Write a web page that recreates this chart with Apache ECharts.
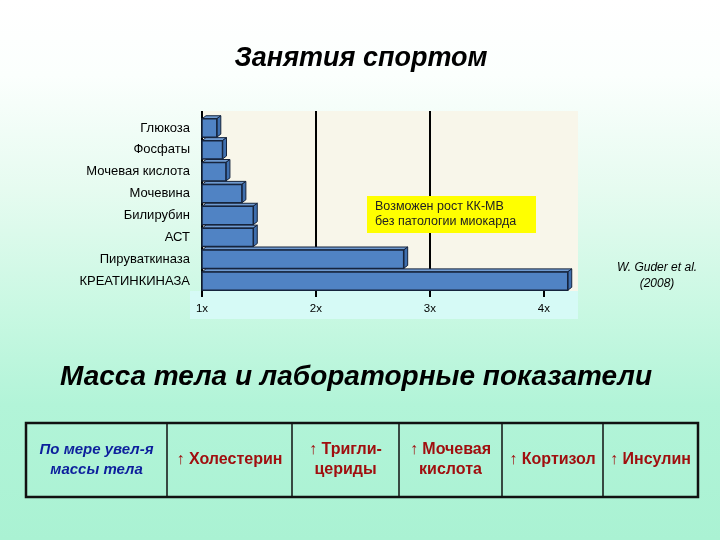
<!DOCTYPE html>
<html><head><meta charset="utf-8">
<script src="https://cdn.jsdelivr.net/npm/echarts@6/dist/echarts.min.js"></script>
<style>
html,body{margin:0;padding:0;}
#c{width:720px;height:540px;background:linear-gradient(to bottom,#ffffff 0%,#fbfffd 14%,#e6fbf0 35%,#c8f8e2 58%,#b2f4d8 75%,#aaf2d3 100%);}
</style></head>
<body><div id="c"></div>
<script>
const categories = ['Глюкоза','Фосфаты','Мочевая кислота','Мочевина','Билирубин','АСТ','Пируваткиназа','КРЕАТИНКИНАЗА'];
const values = [1.13,1.18,1.21,1.35,1.45,1.45,2.77,4.21];
const tickValues = [1,2,3,4];
const axisMin = 1, axisMax = 4.3;
const mainTitle = 'Занятия спортом';
const secondTitle = 'Масса тела и лабораторные показатели';
const noteLines = ['Возможен рост КК-МВ','без патологии миокарда'];
const sourceLines = ['W. Guder et al.','(2008)'];
const tableLead = ['По мере увел-я','массы тела'];
const tableItems = [['↑ Холестерин'],['↑ Тригли-','цериды'],['↑ Мочевая','кислота'],['↑ Кортизол'],['↑ Инсулин']];

const FF = '"Liberation Sans", Arial, sans-serif';
function txt(text,x,y,font,fill,align){
  return {type:'text',z:20,style:{text:text,x:x,y:y,font:font,fill:fill,
    align:align||'center',textAlign:align||'center',verticalAlign:'middle',textVerticalAlign:'middle'}};
}
const g = [];
g.push({type:'rect',z:-5,shape:{x:190,y:291,width:388,height:28},style:{fill:'#d6faf6'}});
g.push(txt(mainTitle,361,59,'italic bold 27px '+FF,'#000'));
g.push({type:'rect',z:15,shape:{x:367,y:196,width:169,height:37},style:{fill:'#ffff00'}});
g.push(txt(noteLines[0],375,207,'12.5px '+FF,'#222','left'));
g.push(txt(noteLines[1],375,222,'12.5px '+FF,'#222','left'));
g.push(txt(sourceLines[0],657,268,'italic 12px '+FF,'#000'));
g.push(txt(sourceLines[1],657,284,'italic 12px '+FF,'#000'));
g.push(txt(secondTitle,356,377,'italic bold 28px '+FF,'#000'));
// table
const colX = [26,167,292,399,502,603,698];
const tTop = 423, tBot = 497, tMid = (tTop+tBot)/2;
g.push({type:'rect',z:20,shape:{x:26,y:tTop,width:672,height:tBot-tTop},style:{fill:'none',stroke:'#111',lineWidth:2.5}});
for(let i=1;i<colX.length-1;i++){
  g.push({type:'line',z:20,shape:{x1:colX[i],y1:tTop,x2:colX[i],y2:tBot},style:{stroke:'#111',lineWidth:1.5}});
}
const cells = [tableLead].concat(tableItems);
cells.forEach((lines,i)=>{
  const cx = (colX[i]+colX[i+1])/2;
  const font = i===0 ? 'italic bold 15px '+FF : 'bold 16px '+FF;
  const col = i===0 ? '#0c1e9c' : '#a00f0f';
  if(lines.length===1){ g.push(txt(lines[0],cx,tMid,font,col)); }
  else { g.push(txt(lines[0],cx,tMid-10,font,col)); g.push(txt(lines[1],cx,tMid+10,font,col)); }
});

const chart = echarts.init(document.getElementById('c'));
chart.setOption({
  backgroundColor:'transparent',
  animation:false,
  graphic:g,
  grid:[
    {left:202,top:117,width:376,height:175,show:false},
    {left:202,top:111,width:376,height:180,show:true,backgroundColor:'#f8f6ea',borderWidth:0}
  ],
  xAxis:[
    {gridIndex:0,type:'value',min:axisMin,max:axisMax,show:false},
    {gridIndex:1,type:'value',min:axisMin,max:axisMax,interval:1,
     axisLine:{show:false},
     axisTick:{show:true,length:6,customValues:tickValues,lineStyle:{color:'#000',width:2}},
     splitLine:{show:true,showMaxLine:false,lineStyle:{color:'#000',width:2}},
     axisLabel:{customValues:tickValues,margin:12,fontSize:11.5,color:'#000',fontFamily:FF,
       formatter:v=>Number.isInteger(v)?v+'x':''}}
  ],
  yAxis:[
    {gridIndex:0,type:'category',data:categories,inverse:true,
     axisLine:{show:false},axisTick:{show:false},splitLine:{show:false},
     axisLabel:{margin:12,fontSize:13,color:'#000',fontFamily:FF}},
    {gridIndex:1,type:'category',data:categories,inverse:true,show:false}
  ],
  series:[{
    type:'custom',xAxisIndex:0,yAxisIndex:0,
    data:values.map((v,i)=>[v,i]),
    encode:{x:0,y:1},
    renderItem:function(params,api){
      const v = api.value(0), idx = api.value(1);
      const p0 = api.coord([axisMin,idx]);
      const p1 = api.coord([v,idx]);
      const band = api.size([0,1])[1];
      const h = band*0.84;
      const top = p0[1]-h/2, bot = p0[1]+h/2;
      const x0 = p0[0], x1 = p1[0];
      const dx = 4, dy = 3;
      const st = '#16243d';
      return {type:'group',children:[
        {type:'polygon',shape:{points:[[x0,top],[x0+dx,top-dy],[x1+dx,top-dy],[x1,top]]},style:{fill:'#6f9ad0',stroke:st,lineWidth:1}},
        {type:'polygon',shape:{points:[[x1,top],[x1+dx,top-dy],[x1+dx,bot-dy],[x1,bot]]},style:{fill:'#3f6fae',stroke:st,lineWidth:1}},
        {type:'rect',shape:{x:x0,y:top,width:x1-x0,height:h},style:{fill:'#5083c4',stroke:st,lineWidth:1.5}}
      ]};
    }
  }]
});
</script>
</body></html>
